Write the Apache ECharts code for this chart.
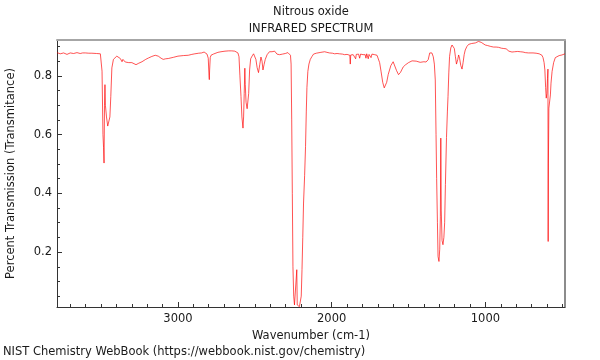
<!DOCTYPE html>
<html>
<head>
<meta charset="utf-8">
<script src="https://cdn.jsdelivr.net/npm/echarts@6/dist/echarts.min.js"></script>
<style>html,body{margin:0;padding:0;background:#fff}#c{width:600px;height:360px}</style>
</head>
<body>
<div id="c"></div>
<script>
const titleText = 'Nitrous oxide';
const subTitleText = 'INFRARED SPECTRUM';
const xName = 'Wavenumber (cm-1)';
const yName = 'Percent Transmission (Transmitance)';
const footerText = 'NIST Chemistry WebBook (https://webbook.nist.gov/chemistry)';

const xMajorTicks = [1000, 2000, 3000];
const xMinorTicks = [500,600,700,800,900,1100,1200,1300,1400,1500,1600,1700,1800,1900,2100,2200,2300,2400,2500,2600,2700,2800,2900,3100,3200,3300,3400,3500,3600,3700];
const yMajorTicks = [0.2, 0.4, 0.6, 0.8];
const yMinorTicks = [0.05,0.1,0.15,0.25,0.3,0.35,0.45,0.5,0.55,0.65,0.7,0.75,0.85,0.9];

const wavenumber = [
3787,3776,3766,3755,3744,3733,3722,3711,3701,3690,3679,3668,3657,3646,3636,3620,3603,3580,3560,3530,3505,
3498,3494,3488,3484,3481,3478,3475,3472,3465,3457,3449,3443,3437,3430,3420,3410,3398,3387,3375,3364,3358,3352,3343,
3320,3300,3289,3273,3255,3234,3210,3191,3170,3148,3128,3110,3096,3080,3063,3030,3000,2965,2933,2910,2890,2865,2846,
2830,2820,2811,2803,2798,2796,2794,2790,2785,2770,2759,2740,2720,2694,2670,2650,2630,2619,2610,2603,2597,2590,2584,
2577,2573,2569,2565,2562,2557,2550,2545,2540,2534,2527,2517,2508,2500,2493,2485,2476,2468,2460,2453,2447,2440,2432,
2420,2405,2388,2371,2356,2339,2320,2302,2285,2274,2268,2264,2260,2256,2252,2247,2242,2237,2231,2227,2224,2218,2210,
2203,2198,2193,2188,2183,2176,2170,2165,2161,2155,2148,2139,2128,2118,2100,2089,2070,2046,2031,2015,1995,1981,1965,
1949,1930,1916,1900,1890,1882,1879,1876,1868,1860,1850,1844,1840,1832,1825,1818,1812,1805,1796,1788,1782,1777,1772,
1766,1762,1757,1750,1744,1738,1734,1727,1720,1712,1705,1697,1688,1679,1668,1658,1652,1642,1632,1615,1600,1590,1578,
1565,1552,1535,1521,1500,1477,1450,1424,1400,1386,1372,1362,1356,1348,1339,1332,1326,1321,1317,1312,1308,1302,1297,
1293,1290,1287,1282,1276,1270,1265,1260,1253,1247,1243,1238,1233,1225,1217,1209,1202,1195,1188,1185,1180,1174,1168,
1160,1152,1145,1138,1131,1120,1109,1090,1077,1065,1055,1045,1038,1033,1027,1015,1001,985,965,947,930,914,895,880,865,
855,847,835,827,810,790,773,755,740,720,708,690,670,650,640,632,625,618,613,608,604,600,596,593,591.5,590,587,582,577,
573,566,556,545,534,520,502,490,482
];
const transmittance = [
0.879,0.876,0.875,0.879,0.878,0.874,0.873,0.877,0.878,0.875,0.876,0.878,0.879,0.876,0.876,0.878,0.878,0.877,0.877,0.876,0.875,
0.870,0.816,0.600,0.555,0.503,0.700,0.770,0.700,0.660,0.629,0.628,0.660,0.730,0.827,0.856,0.862,0.867,0.864,0.859,0.848,0.856,0.855,0.847,
0.845,0.845,0.844,0.838,0.843,0.848,0.856,0.861,0.866,0.870,0.867,0.860,0.856,0.858,0.859,0.863,0.867,0.869,0.870,0.873,0.875,0.877,0.878,
0.881,0.882,0.874,0.860,0.800,0.787,0.820,0.862,0.870,0.874,0.878,0.880,0.882,0.884,0.885,0.885,0.884,0.883,0.878,0.865,0.800,0.730,0.660,
0.622,0.660,0.740,0.826,0.770,0.710,0.688,0.686,0.740,0.820,0.858,0.868,0.875,0.876,0.856,0.828,0.811,0.838,0.864,0.850,0.820,0.838,0.856,
0.872,0.882,0.882,0.884,0.874,0.872,0.874,0.876,0.879,0.880,0.870,0.840,0.650,0.400,0.150,0.050,0.020,0.014,0.016,0.140,0.020,0.014,0.014,
0.020,0.050,0.140,0.250,0.367,0.460,0.560,0.680,0.760,0.815,0.840,0.856,0.866,0.874,0.877,0.878,0.880,0.882,0.880,0.878,0.877,0.875,0.876,
0.875,0.874,0.872,0.873,0.871,0.870,0.840,0.871,0.873,0.872,0.874,0.858,0.873,0.870,0.874,0.860,0.874,0.876,0.872,0.878,0.872,0.860,0.875,
0.872,0.858,0.873,0.869,0.862,0.874,0.875,0.870,0.872,0.873,0.870,0.867,0.845,0.816,0.778,0.759,0.760,0.778,0.805,0.835,0.848,0.842,0.818,
0.804,0.812,0.830,0.837,0.845,0.851,0.850,0.846,0.848,0.847,0.855,0.878,0.884,0.878,0.865,0.840,0.786,0.600,0.450,0.300,0.185,0.168,0.210,
0.320,0.588,0.340,0.240,0.225,0.250,0.300,0.430,0.590,0.680,0.730,0.810,0.866,0.895,0.905,0.902,0.893,0.865,0.840,0.837,0.855,0.871,0.860,
0.835,0.823,0.845,0.872,0.888,0.900,0.907,0.910,0.911,0.912,0.913,0.917,0.921,0.922,0.914,0.908,0.905,0.903,0.900,0.898,0.898,0.897,0.894,0.893,0.892,
0.887,0.884,0.882,0.881,0.882,0.883,0.882,0.881,0.879,0.878,0.879,0.878,0.877,0.875,0.873,0.870,0.862,0.845,0.820,0.760,0.724,0.740,0.790,0.823,0.236,0.500,0.690,0.690,0.735,
0.775,0.815,0.845,0.862,0.866,0.869,0.871,0.873,0.875
];

const xMin = 482, xMax = 3787, yMin = 0.013, yMax = 0.922;
const font = 'DejaVu Sans';
const fs = 11.5;
const txt = '#1a1a1a';
const axisCol = '#333';

const chart = echarts.init(document.getElementById('c'), null, {renderer: 'canvas'});
const baseX = {type: 'value', inverse: true, min: xMin, max: xMax, splitLine: {show: false}};
const baseY = {type: 'value', min: yMin, max: yMax, splitLine: {show: false}};
const f = fs + 'px "DejaVu Sans"';

chart.setOption({
  animation: false,
  backgroundColor: '#fff',
  grid: {left: 57, right: 35, top: 40, bottom: 53, containLabel: false, outerBoundsMode: 'none'},
  graphic: [
    {type: 'text', style: {text: titleText, x: 311, y: 12.5, textAlign: 'center', textVerticalAlign: 'middle', font: f, fill: txt}},
    {type: 'text', style: {text: subTitleText, x: 311, y: 29, textAlign: 'center', textVerticalAlign: 'middle', font: f, fill: txt}},
    {type: 'text', style: {text: footerText, x: 3, y: 352.5, textAlign: 'left', textVerticalAlign: 'middle', font: f, fill: txt}}
  ],
  xAxis: [
    Object.assign({}, baseX, {
      position: 'bottom',
      name: xName, nameLocation: 'middle', nameGap: 18,
      nameTextStyle: {fontFamily: font, fontSize: fs, color: txt},
      axisLine: {show: true, onZero: false, lineStyle: {color: axisCol, width: 1}},
      axisTick: {show: true, inside: true, length: 5, customValues: xMajorTicks, lineStyle: {color: axisCol}},
      axisLabel: {show: true, customValues: xMajorTicks, margin: 6, fontFamily: font, fontSize: fs, color: txt,
        formatter: v => String(v)}
    }),
    Object.assign({}, baseX, {
      position: 'bottom',
      axisLine: {show: false, onZero: false},
      axisTick: {show: true, inside: true, length: 3, customValues: xMinorTicks, lineStyle: {color: axisCol}},
      axisLabel: {show: false}
    }),
    Object.assign({}, baseX, {
      position: 'top',
      axisLine: {show: true, onZero: false, lineStyle: {color: '#a6a6a6', width: 2}},
      axisTick: {show: false}, axisLabel: {show: false}
    })
  ],
  yAxis: [
    Object.assign({}, baseY, {
      position: 'left',
      name: yName, nameLocation: 'middle', nameGap: 40,
      nameTextStyle: {fontFamily: font, fontSize: fs, color: txt},
      axisLine: {show: true, onZero: false, lineStyle: {color: axisCol, width: 1}},
      axisTick: {show: true, inside: true, length: 5, customValues: yMajorTicks, lineStyle: {color: axisCol}},
      axisLabel: {show: true, customValues: yMajorTicks, margin: 5, fontFamily: font, fontSize: fs, color: txt,
        formatter: v => v.toFixed(1)}
    }),
    Object.assign({}, baseY, {
      position: 'left',
      axisLine: {show: false, onZero: false},
      axisTick: {show: true, inside: true, length: 3, customValues: yMinorTicks, lineStyle: {color: axisCol}},
      axisLabel: {show: false}
    }),
    Object.assign({}, baseY, {
      position: 'right',
      axisLine: {show: true, onZero: false, lineStyle: {color: '#666', width: 1.5}},
      axisTick: {show: false}, axisLabel: {show: false}
    })
  ],
  series: [{
    type: 'line',
    xAxisIndex: 0, yAxisIndex: 0,
    data: wavenumber.map((w, i) => [w, transmittance[i]]),
    showSymbol: false,
    symbol: 'none',
    lineStyle: {color: '#ff0000', width: 0.8, opacity: 0.85},
    clip: true
  }]
});
</script>
</body>
</html>
